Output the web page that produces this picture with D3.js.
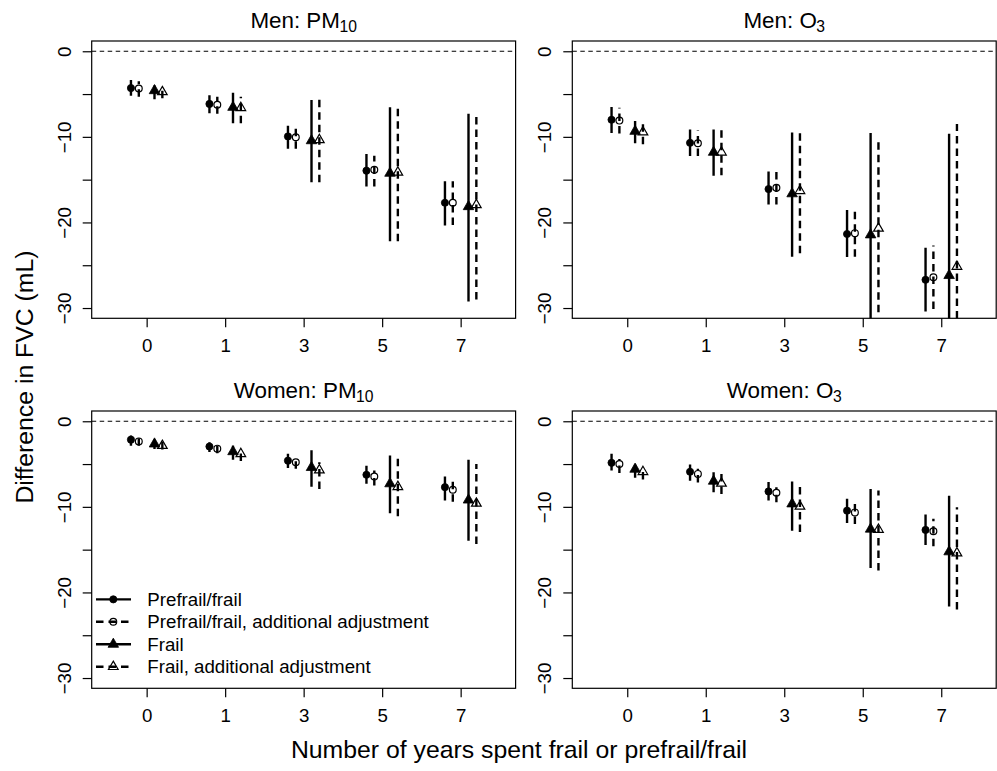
<!DOCTYPE html>
<html lang="en">
    <head>
        <meta charset="utf-8">
        <title>FVC difference by years frail</title>
        <script type="text/javascript" src="https://d3js.org/d3.v7.min.js"></script>
        <style type="text/css">
          body { margin: 0; background: #fff; }
          svg text { font-family: "Liberation Sans", Arial, Helvetica, sans-serif; fill: #000; }
        </style>
    </head>
    <body>
        <script type="text/javascript">
        var w = 997;
        var h = 771;

        // ---- data ----
        var xLabels = ["0", "1", "3", "5", "7"];
        var seriesNames = ["Prefrail/frail", "Prefrail/frail, additional adjustment", "Frail", "Frail, additional adjustment"];
        var panelTitles = [["Men: PM", "10"], ["Men: O", "3"], ["Women: PM", "10"], ["Women: O", "3"]];
        var yTicks = [-30, -25, -20, -15, -10, -5, 0];

        // rows: prefrail/frail, prefrail/frail adj, frail, frail adj ; cols: years 0,1,3,5,7
        var menPm10Est = [[-4.3, -6.15, -9.95, -13.95, -17.7],
                          [-4.35, -6.25, -10.05, -13.85, -17.7],
                          [-4.6, -6.55, -10.45, -14.25, -18.15],
                          [-4.75, -6.6, -10.35, -14.15, -17.95]];
        var menPm10Lo = [[-5.2, -7.25, -11.4, -15.8, -20.35],
                         [-5.3, -7.3, -11.4, -15.8, -20.3],
                         [-5.6, -8.4, -15.3, -22.2, -29.25],
                         [-5.5, -8.4, -15.3, -22.2, -29.0]];
        var menPm10Hi = [[-3.35, -5.15, -8.7, -12.0, -15.2],
                         [-3.5, -5.3, -8.7, -12.2, -15.2],
                         [-4.0, -4.85, -5.7, -6.55, -7.3],
                         [-4.2, -5.3, -5.6, -6.3, -7.1]];

        var menO3Est = [[-8.0, -10.7, -16.1, -21.35, -26.7],
                        [-8.1, -10.75, -15.95, -21.25, -26.4],
                        [-9.35, -11.8, -16.65, -21.45, -26.2],
                        [-9.45, -11.8, -16.3, -20.7, -25.15]];
        var menO3Lo = [[-9.55, -12.25, -17.9, -24.05, -30.4],
                       [-9.6, -12.25, -17.9, -24.0, -30.1],
                       [-10.75, -14.55, -24.0, -33.4, -42.8],
                       [-10.85, -14.5, -23.6, -30.5, -40.0]];
        var menO3Hi = [[-6.5, -9.15, -14.05, -18.55, -22.95],
                       [-6.6, -9.25, -14.1, -18.6, -22.7],
                       [-8.15, -9.15, -9.5, -9.55, -9.65],
                       [-8.3, -9.2, -9.55, -10.05, -8.5]];

        var womenPm10Est = [[-2.15, -2.95, -4.6, -6.25, -7.7],
                            [-2.35, -3.2, -4.8, -6.45, -8.0],
                            [-2.65, -3.55, -5.4, -7.3, -9.2],
                            [-2.85, -3.8, -5.7, -7.65, -9.6]];
        var womenPm10Lo = [[-2.85, -3.6, -5.45, -7.3, -9.25],
                           [-2.85, -3.75, -5.55, -7.5, -9.4],
                           [-3.25, -4.5, -7.65, -10.75, -13.95],
                           [-3.3, -4.65, -7.9, -11.1, -14.35]];
        var womenPm10Hi = [[-1.65, -2.45, -3.8, -5.2, -6.45],
                           [-1.95, -2.7, -4.25, -5.75, -6.6],
                           [-2.15, -2.85, -3.4, -4.0, -4.5],
                           [-2.3, -3.3, -4.8, -4.3, -5.0]];

        var womenO3Est = [[-4.85, -5.9, -8.2, -10.45, -12.7],
                          [-5.0, -6.15, -8.35, -10.65, -12.85],
                          [-5.6, -7.0, -9.65, -12.6, -15.25],
                          [-5.9, -7.25, -9.95, -12.65, -15.4]];
        var womenO3Lo = [[-5.75, -6.95, -9.25, -11.9, -14.45],
                         [-6.05, -7.15, -9.45, -12.0, -14.6],
                         [-6.6, -8.3, -12.8, -17.15, -21.65],
                         [-6.8, -8.5, -12.95, -17.45, -22.0]];
        var womenO3Hi = [[-3.8, -5.05, -7.1, -9.05, -10.9],
                         [-4.4, -5.55, -7.7, -9.2, -11.4],
                         [-5.05, -5.95, -7.05, -7.9, -8.7],
                         [-5.35, -6.15, -7.5, -8.1, -10.05]];

        var panels = [
          {est: menPm10Est, lo: menPm10Lo, hi: menPm10Hi},
          {est: menO3Est, lo: menO3Lo, hi: menO3Hi},
          {est: womenPm10Est, lo: womenPm10Lo, hi: womenPm10Hi},
          {est: womenO3Est, lo: womenO3Lo, hi: womenO3Hi}
        ];

        // ---- layout / style ----
        var colLeft = [91.7, 572.3];
        var rowTop = [41, 411];
        var boxW = 423.9;
        var boxH = 277.3;
        var baseSz = 18.7;
        var titleSz = 22.4;
        var labSz = 24.8;
        var dashBar = "7.5,5";
        var barW = 2.4;

        var seriesStyle = [
          {offset: -0.2, dash: null, shape: "circle", filled: true},
          {offset: -0.1, dash: dashBar, shape: "circle", filled: false},
          {offset: 0.1, dash: null, shape: "triangle", filled: true},
          {offset: 0.2, dash: dashBar, shape: "triangle", filled: false}
        ];

        // R-like point sizes
        var cr = 3.6;
        var triPath = function(cx, cy, s){
          var top = 5.07 * s, yc = 2.53 * s, hw = 4.39 * s;
          return "M" + cx + "," + (cy - top) + "L" + (cx + hw) + "," + (cy + yc) +
                 "L" + (cx - hw) + "," + (cy + yc) + "Z";
        };

        var drawMarker = function(g, st, cx, cy){
          if(st.shape === "circle"){
            g.append("circle")
              .attr("cx", cx).attr("cy", cy).attr("r", st.filled ? cr : cr - 0.2)
              .attr("fill", st.filled ? "#000" : "none")
              .attr("stroke", "#000")
              .attr("stroke-width", st.filled ? 0.8 : 1.2);
          } else {
            g.append("path")
              .attr("d", triPath(cx, cy, st.filled ? 1.2 : 1.1))
              .attr("fill", st.filled ? "#000" : "none")
              .attr("stroke", "#000")
              .attr("stroke-linejoin", "miter")
              .attr("stroke-width", st.filled ? 0.8 : 1.2);
          }
        };

        var svg = d3.select("body").append("svg")
                    .attr("width", w)
                    .attr("height", h);

        panels.forEach(function(p, pi){
          var left = colLeft[pi % 2];
          var top = rowTop[Math.floor(pi / 2)];

          var x = d3.scaleLinear().domain([0.3, 5.7]).range([left, left + boxW]);
          var y = d3.scaleLinear().domain([-31.2, 1.2]).range([top + boxH, top]);

          var clipId = "clip" + pi;
          svg.append("clipPath").attr("id", clipId)
            .append("rect")
              .attr("x", left).attr("y", top)
              .attr("width", boxW).attr("height", boxH);

          // zero reference line
          svg.append("line")
            .attr("x1", left).attr("x2", left + boxW)
            .attr("y1", y(0)).attr("y2", y(0))
            .attr("stroke", "#000")
            .attr("stroke-width", 1.1)
            .attr("stroke-dasharray", "4.5,3.5");

          var gData = svg.append("g").attr("clip-path", "url(#" + clipId + ")");

          seriesStyle.forEach(function(st, si){
            d3.range(xLabels.length).forEach(function(k){
              var cx = x(k + 1 + st.offset);
              gData.append("line")
                .attr("x1", cx).attr("x2", cx)
                .attr("y1", y(p.lo[si][k])).attr("y2", y(p.hi[si][k]))
                .attr("stroke", "#000")
                .attr("stroke-width", barW)
                .attr("stroke-dasharray", st.dash);
            });
          });

          seriesStyle.forEach(function(st, si){
            d3.range(xLabels.length).forEach(function(k){
              drawMarker(gData, st, x(k + 1 + st.offset), y(p.est[si][k]));
            });
          });

          // box
          svg.append("rect")
            .attr("x", left).attr("y", top)
            .attr("width", boxW).attr("height", boxH)
            .attr("fill", "none")
            .attr("stroke", "#000")
            .attr("stroke-width", 1.2);

          // axes
          var gx = svg.append("g")
            .attr("transform", "translate(0," + (top + boxH) + ")")
            .call(d3.axisBottom(x)
                    .tickValues([1, 2, 3, 4, 5])
                    .tickFormat(function(d, i){ return xLabels[i]; })
                    .tickSize(9));
          gx.select(".domain").remove();
          gx.selectAll("line").attr("stroke-width", 1.2);
          gx.selectAll("text")
            .attr("y", 34).attr("dy", 0)
            .attr("font-size", baseSz + "px")
            .attr("font-family", null);

          var gy = svg.append("g")
            .attr("transform", "translate(" + left + ",0)")
            .call(d3.axisLeft(y)
                    .tickValues(yTicks)
                    .tickFormat(function(d){ return d % 10 === 0 ? d3.format("d")(d) : ""; })
                    .tickSize(9));
          gy.select(".domain").remove();
          gy.selectAll("line").attr("stroke-width", 1.2);
          gy.selectAll("text")
            .attr("x", 0).attr("dy", 0)
            .attr("text-anchor", "middle")
            .attr("transform", "translate(-21,0) rotate(-90)")
            .attr("font-size", baseSz + "px")
            .attr("font-family", null);

          // title with subscript
          var t = svg.append("text")
            .attr("x", left + boxW / 2)
            .attr("y", top - 12.7)
            .attr("text-anchor", "middle")
            .attr("font-size", titleSz + "px")
            .text(panelTitles[pi][0]);
          t.append("tspan")
            .attr("dy", 4)
            .attr("dx", -0.5)
            .attr("font-size", (titleSz * 0.7) + "px")
            .text(panelTitles[pi][1]);
        });

        // legend (bottom-left panel)
        var lgLeft = colLeft[0];
        var lgBottom = rowTop[1] + boxH;
        var gLeg = svg.append("g");
        seriesStyle.forEach(function(st, si){
          var ly = lgBottom - 21.6 - 22.45 * (3 - si);
          gLeg.append("line")
            .attr("x1", lgLeft + 4.3).attr("x2", lgLeft + 39.3)
            .attr("y1", ly).attr("y2", ly)
            .attr("stroke", "#000")
            .attr("stroke-width", barW)
            .attr("stroke-dasharray", st.dash ? "7.5,5" : null);
          drawMarker(gLeg, st, lgLeft + 21.6, ly);
          gLeg.append("text")
            .attr("x", lgLeft + 55.6)
            .attr("y", ly)
            .attr("dy", "0.35em")
            .attr("font-size", baseSz + "px")
            .text(seriesNames[si]);
        });

        // outer axis labels
        svg.append("text")
          .attr("x", 519)
          .attr("y", 758.3)
          .attr("text-anchor", "middle")
          .attr("font-size", labSz + "px")
          .text("Number of years spent frail or prefrail/frail");

        svg.append("text")
          .attr("transform", "translate(33.3,377) rotate(-90)")
          .attr("text-anchor", "middle")
          .attr("font-size", labSz + "px")
          .text("Difference in FVC (mL)");
        </script>
    </body>
</html>
